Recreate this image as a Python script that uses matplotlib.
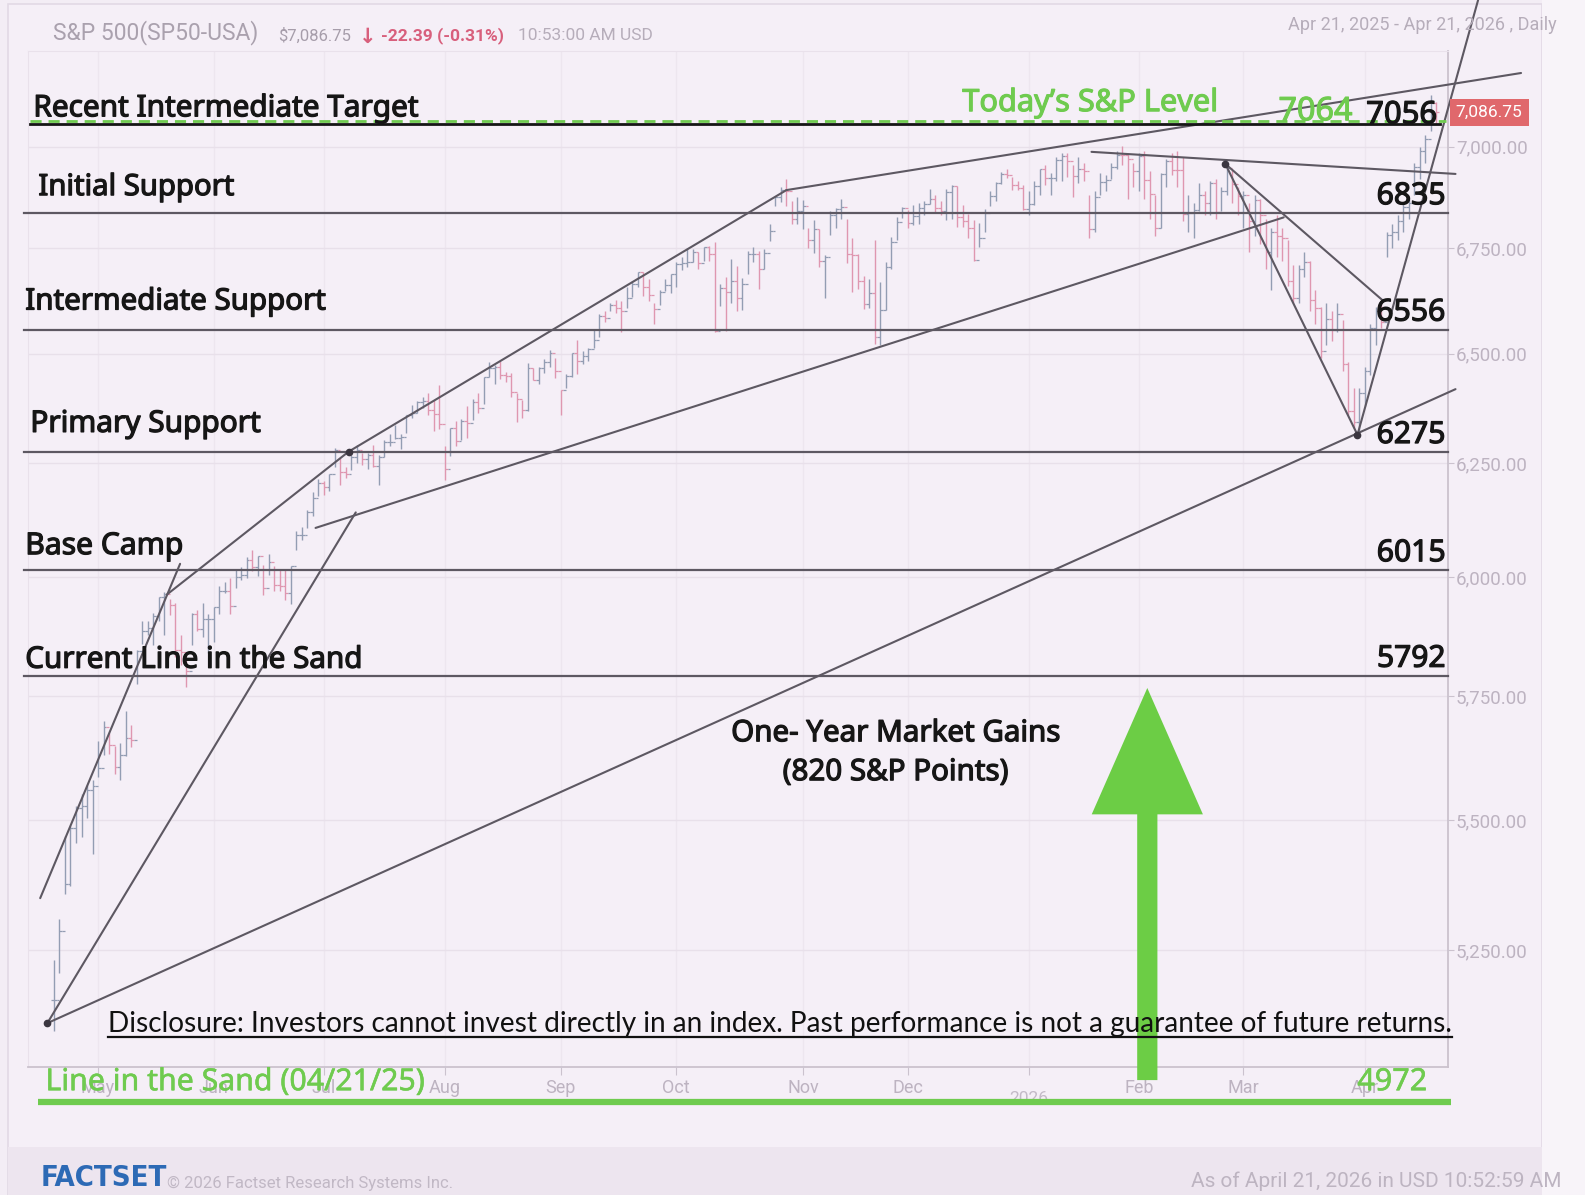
import numpy as np
import pandas as pd
import matplotlib
matplotlib.use("Agg")
import matplotlib.pyplot as plt
import matplotlib.patheffects as pe
from matplotlib.lines import Line2D
from matplotlib.patches import Polygon, Rectangle
from matplotlib.ticker import FixedLocator, NullLocator, FuncFormatter

# ---------------- data ----------------
holidays = ["2025-05-26", "2025-06-19", "2025-07-04", "2025-09-01", "2025-11-27",
            "2025-12-25", "2026-01-01", "2026-01-19", "2026-02-16", "2026-04-03"]

# daily S&P 500 bars, Apr 21 2025 - Apr 21 2026 (one line per month)
bar_low = [
    5101, 5207, 5356, 5372, 5456, 5468, 5505, 5434,
    5587, 5631, 5632, 5593, 5580, 5628, 5646, 5775, 5859, 5877, 5857, 5907, 5878, 5919, 5831, 5814, 5768, 5856, 5886, 5873, 5840,
    5862, 5921, 5966, 5921, 5978, 5994, 5999, 6013, 6003, 5963, 6004, 5970, 5971, 5952, 5943, 6059, 6080, 6106, 6133, 6178,
    6179, 6188, 6241, 6201, 6218, 6235, 6251, 6245, 6237, 6241, 6202, 6265, 6288, 6305, 6281, 6318, 6353, 6364, 6375, 6358, 6323, 6327,
    6212, 6267, 6289, 6303, 6306, 6347, 6364, 6385, 6447, 6430, 6441, 6434, 6399, 6344, 6352, 6369, 6438, 6431, 6455, 6470, 6443,
    6360, 6420, 6445, 6454, 6477, 6482, 6514, 6539, 6575, 6601, 6596, 6551, 6607, 6633, 6657, 6636, 6623, 6569, 6614, 6647, 6642,
    6656, 6697, 6706, 6718, 6699, 6720, 6720, 6550, 6612, 6552, 6618, 6601, 6603, 6687, 6716, 6652, 6701, 6767, 6852, 6862, 6853, 6808, 6810,
    6797, 6750, 6739, 6705, 6631, 6781, 6800, 6822, 6715, 6646, 6652, 6605, 6607, 6522, 6521, 6603, 6699, 6769, 6824,
    6800, 6807, 6808, 6832, 6858, 6839, 6832, 6818, 6821, 6801, 6801, 6775, 6719, 6752, 6790, 6852, 6865, 6906, 6921, 6891, 6893, 6843,
    6830, 6855, 6880, 6905, 6880, 6915, 6915, 6925, 6875, 6910, 6915, 6775, 6790, 6880, 6890, 6920, 6945, 6955, 6870, 6900,
    6890, 6870, 6820, 6780, 6800, 6900, 6930, 6900, 6815, 6790, 6775, 6840, 6830, 6830, 6820, 6840, 6880, 6860, 6830,
    6800, 6740, 6780, 6760, 6700, 6650, 6730, 6720, 6660, 6620, 6620, 6680, 6600, 6570, 6490, 6520, 6530, 6550, 6460, 6360, 6330, 6320,
    6380, 6450, 6520, 6560, 6730, 6750, 6770, 6790, 6820, 6880, 6920, 6960, 7040, 7060,
]
bar_high = [
    5232, 5309, 5469, 5489, 5528, 5553, 5571, 5581,
    5659, 5700, 5674, 5649, 5655, 5720, 5691, 5845, 5906, 5906, 5924, 5958, 5968, 5954, 5945, 5878, 5829, 5924, 5930, 5944, 5921,
    5937, 5981, 5990, 5999, 6017, 6022, 6044, 6060, 6045, 6026, 6051, 6024, 6018, 6018, 6025, 6101, 6108, 6146, 6187, 6215,
    6210, 6227, 6284, 6262, 6242, 6269, 6290, 6272, 6273, 6292, 6269, 6303, 6315, 6337, 6316, 6360, 6381, 6390, 6401, 6409, 6393, 6427,
    6288, 6330, 6346, 6350, 6379, 6396, 6410, 6446, 6481, 6474, 6482, 6458, 6456, 6410, 6393, 6478, 6466, 6468, 6487, 6508, 6489,
    6417, 6453, 6502, 6532, 6506, 6513, 6556, 6593, 6600, 6619, 6627, 6624, 6656, 6672, 6694, 6693, 6676, 6619, 6651, 6677, 6689,
    6717, 6728, 6750, 6749, 6740, 6754, 6755, 6764, 6664, 6680, 6724, 6707, 6678, 6744, 6752, 6743, 6748, 6808, 6878, 6900, 6920, 6864, 6876,
    6868, 6798, 6818, 6797, 6733, 6841, 6848, 6869, 6822, 6775, 6735, 6683, 6675, 6770, 6668, 6716, 6777, 6826, 6850,
    6844, 6856, 6861, 6866, 6895, 6879, 6864, 6894, 6904, 6901, 6856, 6834, 6819, 6812, 6845, 6889, 6912, 6937, 6945, 6925, 6915, 6905,
    6890, 6915, 6945, 6955, 6935, 6975, 6985, 6985, 6955, 6975, 6960, 6880, 6890, 6935, 6930, 6960, 6990, 7002, 6985, 6960,
    6985, 6990, 6940, 6880, 6935, 6970, 6985, 6990, 6975, 6880, 6860, 6910, 6890, 6915, 6920, 6900, 6950, 6945, 6900,
    6890, 6860, 6880, 6870, 6820, 6800, 6830, 6800, 6770, 6710, 6710, 6740, 6720, 6650, 6610, 6620, 6600, 6620, 6580, 6480, 6420, 6420,
    6470, 6570, 6610, 6620, 6790, 6810, 6830, 6860, 6870, 6960, 7000, 7030, 7130, 7112,
]
bar_close = [
    5158, 5287, 5376, 5485, 5525, 5529, 5561, 5569,
    5604, 5686, 5650, 5607, 5631, 5664, 5660, 5844, 5886, 5892, 5917, 5958, 5964, 5940, 5845, 5842, 5803, 5922, 5889, 5912, 5912,
    5936, 5970, 5971, 5939, 6000, 6006, 6038, 6022, 6045, 5977, 6033, 5983, 5981, 5967, 6025, 6092, 6092, 6141, 6173, 6205,
    6198, 6227, 6279, 6230, 6226, 6263, 6280, 6259, 6269, 6244, 6264, 6297, 6297, 6306, 6309, 6359, 6363, 6389, 6390, 6371, 6362, 6339,
    6238, 6330, 6299, 6345, 6340, 6389, 6374, 6446, 6466, 6469, 6450, 6449, 6411, 6396, 6370, 6467, 6439, 6466, 6481, 6502, 6460,
    6416, 6448, 6502, 6482, 6495, 6512, 6532, 6588, 6584, 6615, 6606, 6600, 6632, 6664, 6693, 6657, 6638, 6605, 6644, 6661, 6688,
    6711, 6715, 6716, 6740, 6714, 6753, 6735, 6553, 6655, 6644, 6671, 6630, 6664, 6735, 6735, 6699, 6738, 6792, 6875, 6891, 6890, 6822, 6840,
    6852, 6771, 6796, 6720, 6729, 6832, 6846, 6851, 6737, 6734, 6672, 6617, 6642, 6538, 6603, 6705, 6766, 6813, 6849,
    6812, 6829, 6849, 6857, 6870, 6847, 6840, 6887, 6901, 6827, 6816, 6800, 6721, 6775, 6835, 6878, 6910, 6932, 6930, 6905, 6896, 6845,
    6858, 6902, 6944, 6921, 6921, 6966, 6977, 6963, 6926, 6944, 6940, 6797, 6876, 6913, 6916, 6950, 6979, 6978, 6969, 6939,
    6976, 6917, 6882, 6798, 6932, 6964, 6942, 6941, 6833, 6836, 6843, 6881, 6861, 6909, 6837, 6890, 6946, 6908, 6878,
    6880, 6815, 6868, 6830, 6740, 6790, 6780, 6775, 6672, 6632, 6700, 6716, 6625, 6606, 6506, 6581, 6556, 6592, 6477, 6369, 6343, 6410,
    6460, 6560, 6600, 6575, 6783, 6790, 6815, 6850, 6860, 6950, 6990, 7020, 7109.14, 7086.75,
]

# annotated levels
support_names = ["Initial Support", "Intermediate Support", "Primary Support",
                 "Base Camp", "Current Line in the Sand"]
support_levels = [6835, 6556, 6275, 6015, 5792]
target_name = "Recent Intermediate Target"
target_level = 7056
today_level = 7064
start_level = 4972

# hand drawn trend lines: (bar number, price) -> (bar number, price)
trend_lines = [
    ((-1.2, 5115), (54.8, 6141)),
    ((-1.2, 5115), (254.5, 6418)),
    ((-2.5, 5349), (22.9, 6029)),
    ((20.5, 5963), (53.5, 6276)),
    ((53.5, 6276), (133.0, 6892)),
    ((133.0, 6892), (266.4, 7187)),
    ((47.5, 6107), (223.3, 6825)),
    ((188.4, 6987), (254.5, 6932)),
    ((212.7, 6957), (236.7, 6314)),
    ((212.7, 6957), (241.3, 6625)),
    ((236.7, 6314), (258.6, 7377)),
]
pivots = [(-1.2, 5115), (53.5, 6276), (212.7, 6957), (236.7, 6314)]

disclosure = ("Disclosure: Investors cannot invest directly in an index. "
              "Past performance is not a guarantee of future returns.")

# ---------------- prep ----------------
days = pd.bdate_range("2025-04-21", "2026-04-21")
days = days[~days.isin(pd.to_datetime(holidays))]
n = min(len(days), len(bar_close))
days = days[:n]
idx = np.arange(n)
low = np.array(bar_low[:n], float)
high = np.array(bar_high[:n], float)
close = np.array(bar_close[:n], float)
prev = np.r_[close[0], close[:-1]]
up = close >= prev
last = close[-1]
chg = close[-1] - close[-2]
pct = chg / close[-2] * 100

# ---------------- figure ----------------
fig = plt.figure(figsize=(15.85, 11.95), dpi=100, facecolor='#f3edf5')
RW, RH = 1568.0, 1182.0          # reference pixel grid
FWP, FHP = 1585.0, 1195.0
PX = FWP / RW
PT = PX * 72 / 100
fit_items = []                   # (text, width in reference px)


def fx(x):
    return x / RW


def fy(y):
    return 1 - y / RH


def heavy(color, w=0.9):
    # fake semibold: stroke the glyph outline in its own colour
    return [pe.withStroke(linewidth=w, foreground=color)]


BOLD = ['Noto Sans', 'DejaVu Sans']
LIGHT = ['Lato', 'DejaVu Sans']
UI = ['Roboto', 'DejaVu Sans']
INK = '#161616'
GREEN = '#6fcb4f'

# paper card + footer band
fig.add_artist(Rectangle((fx(8), 0), fx(1525) - fx(8), fy(4), transform=fig.transFigure,
                         fc='#f5eff7', ec='#e2d9e5', lw=1.2, zorder=0))
fig.add_artist(Rectangle((fx(8), 0), fx(1525) - fx(8), fy(1135), transform=fig.transFigure,
                         fc='#ede5ef', ec='none', zorder=0))
fig.add_artist(Rectangle((fx(1525), 0), 1 - fx(1525), 1, transform=fig.transFigure,
                         fc='#f8f4f9', ec='none', zorder=0))

AX_L, AX_R, AX_T, AX_B = 28, 1432, 50, 1055
ax = fig.add_axes([fx(AX_L), fy(AX_B), fx(AX_R) - fx(AX_L), fy(AX_T) - fy(AX_B)])
ax.set_facecolor('none')
ax.set_yscale('log')
ax.set_xlim(-4.66, 253.05)
ax.set_ylim(5036, 7245)


def axx(x):
    return (x - AX_L) / (AX_R - AX_L)


for s in ['top', 'left']:
    ax.spines[s].set_color('#e9e1eb')
for s in ['right', 'bottom']:
    ax.spines[s].set_color('#cbc2ce')
    ax.spines[s].set_linewidth(1.3)

# y axis (right side, log)
yticks = [5250, 5500, 5750, 6000, 6250, 6500, 6750, 7000]
ax.yaxis.tick_right()
ax.yaxis.set_major_locator(FixedLocator(yticks))
ax.yaxis.set_minor_locator(NullLocator())
ax.yaxis.set_major_formatter(FuncFormatter(lambda v, p: f"{v:,.2f}"))
ax.tick_params(axis='y', length=4, color='#cbc2ce', labelcolor='#bdb3c1',
               labelsize=13.5, pad=2)
for t in ax.get_yticklabels():
    t.set_family(UI)

# x axis: first trading day of each month
month_start = [i for i in range(1, n) if days[i].month != days[i - 1].month]
ax.xaxis.set_major_locator(FixedLocator(month_start))
ax.set_xticklabels(['' if days[i].month == 1 else days[i].strftime('%b') for i in month_start],
                   family=UI)
ax.tick_params(axis='x', length=6, color='#cbc2ce', labelcolor='#bdb3c1',
               labelsize=13, pad=3)
jan = [i for i in month_start if days[i].month == 1][0]
ax.annotate(days[jan].strftime('%Y'), xy=(jan, 0), xycoords=('data', 'axes fraction'),
            xytext=(0, -32 * PT), textcoords='offset points', ha='center', va='center',
            fontsize=12.5, color='#c3bac7', family=UI, annotation_clip=False)

ax.grid(axis='y', color='#e8e0ea', lw=1)
ax.grid(axis='x', color='#ede6ef', lw=1)
ax.set_axisbelow(True)

# OHLC bars
col = np.where(up, '#939db3', '#df97b0')
ax.vlines(idx, low, high, colors=col, lw=1.0, zorder=2)
ax.hlines(close, idx, idx + 0.5, colors=col, lw=0.9, zorder=2)
ax.hlines(prev, idx - 0.5, idx, colors=col, lw=0.9, zorder=2)

# trend lines
LINE = '#5d5862'
for (x0, y0), (x1, y1) in trend_lines:
    ax.plot([x0, x1], [y0, y1], color=LINE, lw=1.5, clip_on=False, zorder=3,
            solid_capstyle='round')
for px_, py_ in pivots:
    ax.plot(px_, py_, 'o', ms=4.5, color='#3b3640', clip_on=False, zorder=4)

# support lines and labels
label_x = [38, 25, 30, 25, 25]
label_w = [194, 297, 228, 156, 333]
label_gap = [18, 20, 20, 16, 8]
ytr = ax.get_yaxis_transform()
TXT = dict(color=INK, family=BOLD, annotation_clip=False, zorder=6, path_effects=heavy(INK),
           textcoords='offset points', va='baseline', xycoords=ytr)
for name, lvl, lx, lw_, gap in zip(support_names, support_levels, label_x, label_w, label_gap):
    ax.plot([-0.003, 1.0], [lvl, lvl], transform=ytr, color=LINE, lw=1.6,
            clip_on=False, zorder=3)
    t = ax.annotate(name, xy=(axx(lx), lvl), xytext=(0, gap * PT), ha='left',
                    fontsize=18, **TXT)
    fit_items.append((t, lw_))
    t = ax.annotate(f"{lvl}", xy=(axx(1430), lvl), xytext=(0, 9 * PT), ha='right',
                    fontsize=20, **TXT)
    fit_items.append((t, 68))

# target + today's level
ax.plot([axx(30), axx(1430)], [today_level] * 2, transform=ytr, color=GREEN, lw=2,
        dashes=(4, 2.5), clip_on=False, zorder=4)
ax.plot([axx(30), axx(1425)], [target_level] * 2, transform=ytr, color='#151515', lw=2,
        clip_on=False, zorder=4)
t = ax.annotate(target_name, xy=(axx(33), target_level), xytext=(0, 8 * PT), ha='left',
                fontsize=18, **TXT)
fit_items.append((t, 380))
t = ax.annotate(f"{target_level}", xy=(axx(1422), target_level), xytext=(0, 1 * PT),
                ha='right', fontsize=20, **TXT)
fit_items.append((t, 70))
GTXT = dict(TXT, color=GREEN, path_effects=heavy(GREEN, 0.8))
t = ax.annotate("Today\u2019s S&P Level", xy=(axx(952), today_level), xytext=(0, 10 * PT),
                ha='left', fontsize=19, **GTXT)
fit_items.append((t, 253))
t = ax.annotate(f"{today_level}", xy=(axx(1338), today_level), xytext=(0, 1 * PT),
                ha='right', fontsize=19, **GTXT)
fit_items.append((t, 73))

# last price box
ax.annotate(f"{last:,.2f}", xy=(1.0, last), xycoords=ytr, xytext=(6, 0),
            textcoords='offset points', ha='left', va='center', fontsize=12.5,
            color='white', family=UI,
            bbox=dict(boxstyle='square,pad=0.35', fc='#e0686c', ec='none'),
            annotation_clip=False, zorder=6)

# starting line in the sand (below the axis)
ax.plot([axx(38), axx(1435)], [start_level] * 2, transform=ytr, color=GREEN, lw=4.5,
        clip_on=False, zorder=4, solid_capstyle='butt')
STXT = dict(GTXT, path_effects=heavy(GREEN, 0.4))
t = ax.annotate(f"Line in the Sand ({days[0].strftime('%m/%d/%y')})", xy=(axx(45), start_level),
                xytext=(0, 12 * PT), ha='left', fontsize=19, **STXT)
fit_items.append((t, 375))
t = ax.annotate(f"{start_level}", xy=(axx(1412), start_level), xytext=(0, 12 * PT),
                ha='right', fontsize=19, **STXT)
fit_items.append((t, 69))

# one-year gain arrow
x_arr = ax.transAxes.transform((axx(1135), 0))[0]
y_tip = ax.transData.transform((0, support_levels[-1]))[1] - 12 * PX
y_base = ax.transData.transform((0, start_level))[1] + 22 * PX
hw, hl, sw = 55 * PX, 125 * PX, 10 * PX
verts = [(x_arr, y_tip), (x_arr + hw, y_tip - hl), (x_arr + sw, y_tip - hl), (x_arr + sw, y_base),
         (x_arr - sw, y_base), (x_arr - sw, y_tip - hl), (x_arr - hw, y_tip - hl)]
fig.add_artist(Polygon([(vx / FWP, vy / FHP) for vx, vy in verts], closed=True,
                       transform=fig.transFigure, fc='#6ccd45', ec='none', zorder=5))

gain = support_levels[-1] - start_level
t = fig.text(fx(886), fy(745), f"One- Year Market Gains\n({gain} S&P Points)", ha='center',
             va='center', fontsize=17.5, color=INK, family=BOLD, path_effects=heavy(INK),
             linespacing=1.45, zorder=6)
fit_items.append((t, 327))

# disclosure with underline
disc = fig.text(fx(107), fy(1021), disclosure, ha='left', va='baseline', fontsize=17,
                color='#111111', family=LIGHT, zorder=7)
fit_items.append((disc, 1330))

# header
HDR = dict(va='center', family=UI)
fig.text(fx(52), fy(32), "S&P 500(SP50-USA)", fontsize=16.5, color='#aaa1ae', **HDR)
fig.text(fx(275), fy(35), f"${last:,.2f}", fontsize=12, color='#a69daa', **HDR)
fig.text(fx(355), fy(37), "\u2193", fontsize=15, color='#d85f7c', va='center',
         family=['DejaVu Sans'], weight='bold')
fig.text(fx(377), fy(35), f"{chg:.2f} ({pct:.2f}%)", fontsize=12.5, color='#d85f7c',
         weight='bold', **HDR)
fig.text(fx(512), fy(35), "10:53:00 AM USD", fontsize=12.5, color='#b6adba', **HDR)
fig.text(fx(1540), fy(25), f"{days[0].strftime('%b %d, %Y')} - {days[-1].strftime('%b %d, %Y')} , Daily",
         fontsize=13, color='#b6adba', ha='right', **HDR)

# footer
fig.text(fx(40), fy(1165), "FACTSET", fontsize=21, weight='bold', color='#2d6ab5', va='center',
         family=['Liberation Sans Narrow', 'DejaVu Sans'], stretch='condensed')
fig.text(fx(165), fy(1171), "\u00a9 2026 Factset Research Systems Inc.", fontsize=12,
         color='#c1b8c5', **HDR)
fig.text(fx(1545), fy(1168), f"As of {days[-1].strftime('%B %d, %Y')} in USD 10:52:59 AM",
         fontsize=15, color='#bdb4c1', ha='right', **HDR)

# size the hand-written labels to their widths in the reference
fig.canvas.draw()
for t, w in fit_items:
    t.set_fontsize(t.get_fontsize() * w * PX / t.get_window_extent().width)
fig.canvas.draw()
bb = disc.get_window_extent()
fig.add_artist(Line2D([bb.x0 / FWP, bb.x1 / FWP], [fy(1026)] * 2, transform=fig.transFigure,
                      color='#111111', lw=1.6, zorder=7))

fig.savefig("out.png", dpi=100, facecolor=fig.get_facecolor())
